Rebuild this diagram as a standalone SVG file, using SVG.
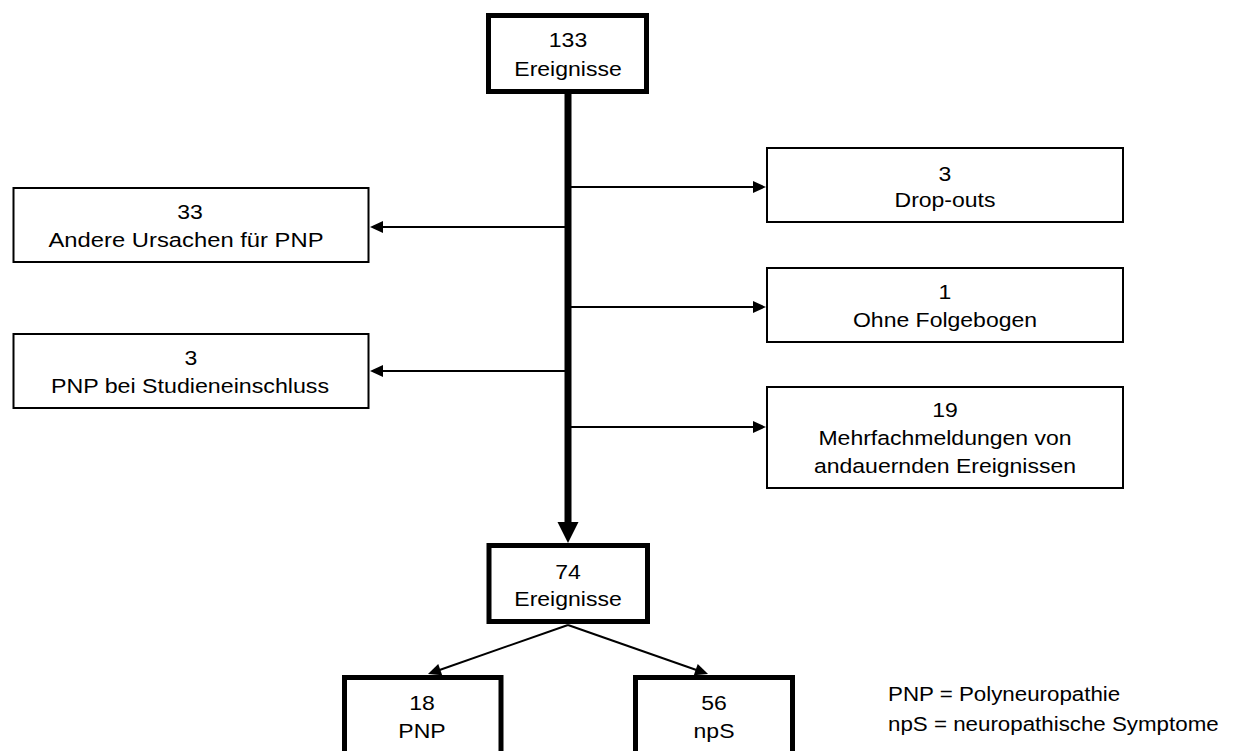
<svg xmlns="http://www.w3.org/2000/svg" width="1242" height="751" viewBox="0 0 1242 751">
<style>
.thick{fill:#fff;stroke:#000;stroke-width:5}
.thin{fill:#fff;stroke:#000;stroke-width:2}
text{font-family:"Liberation Sans",Arial,sans-serif;font-size:19.5px;fill:#000}
.c{text-anchor:middle}
.l{text-anchor:start}
.ln{stroke:#000;stroke-width:2;fill:none;marker-end:url(#ah)}
</style>
<defs>
<marker id="ah" markerUnits="userSpaceOnUse" markerWidth="13" markerHeight="12" refX="3" refY="6" orient="auto" overflow="visible">
<path d="M0,0 L13,6 L0,12 z" fill="#000"/>
</marker>
<marker id="ahb" markerUnits="userSpaceOnUse" markerWidth="21" markerHeight="21" refX="4" refY="10.5" orient="auto" overflow="visible">
<path d="M0,0 L21,10.5 L0,21 z" fill="#000"/>
</marker>
</defs>
<rect width="1242" height="751" fill="#fff"/>
<g id="connectors">
<line x1="568" y1="94" x2="568" y2="526" stroke="#000" stroke-width="7" marker-end="url(#ahb)"/>
<line class="ln" x1="568" y1="227" x2="380" y2="227"/>
<line class="ln" x1="568" y1="371" x2="380" y2="371"/>
<line class="ln" x1="568" y1="187" x2="756" y2="187"/>
<line class="ln" x1="568" y1="307" x2="756" y2="307"/>
<line class="ln" x1="568" y1="427" x2="756" y2="427"/>
<line class="ln" x1="568" y1="625" x2="437.4" y2="670.7"/>
<line class="ln" x1="568" y1="625" x2="698.6" y2="670.7"/>
</g>
<g id="n133">
<rect class="thick" x="488.5" y="15.5" width="158" height="76"/>
<text class="c" transform="translate(568,47) scale(1.18,1)">133</text>
<text class="c" transform="translate(568,76) scale(1.18,1)">Ereignisse</text>
</g>
<g id="nAndere">
<rect class="thin" x="13.5" y="188" width="355" height="74"/>
<text class="c" transform="translate(190,219) scale(1.18,1)">33</text>
<text class="c" transform="translate(186,247) scale(1.22,1)">Andere Ursachen für PNP</text>
</g>
<g id="nStudien">
<rect class="thin" x="13.5" y="334" width="355" height="74"/>
<text class="c" transform="translate(191,365) scale(1.18,1)">3</text>
<text class="c" transform="translate(190,393) scale(1.19,1)">PNP bei Studieneinschluss</text>
</g>
<g id="nDrop">
<rect class="thin" x="767" y="148" width="356" height="74"/>
<text class="c" transform="translate(945,181) scale(1.18,1)">3</text>
<text class="c" transform="translate(945,207) scale(1.18,1)">Drop-outs</text>
</g>
<g id="nOhne">
<rect class="thin" x="767" y="268" width="356" height="74"/>
<text class="c" transform="translate(945,299) scale(1.18,1)">1</text>
<text class="c" transform="translate(945,327) scale(1.18,1)">Ohne Folgebogen</text>
</g>
<g id="nMehr">
<rect class="thin" x="767" y="387" width="356" height="101"/>
<text class="c" transform="translate(945,417) scale(1.18,1)">19</text>
<text class="c" transform="translate(945,445) scale(1.18,1)">Mehrfachmeldungen von</text>
<text class="c" transform="translate(945,473) scale(1.18,1)">andauernden Ereignissen</text>
</g>
<g id="n74">
<rect class="thick" x="489" y="545.5" width="158.5" height="76"/>
<text class="c" transform="translate(568,579) scale(1.18,1)">74</text>
<text class="c" transform="translate(568,606) scale(1.18,1)">Ereignisse</text>
</g>
<g id="nPNP">
<rect class="thick" x="344.5" y="677.5" width="156.5" height="100"/>
<text class="c" transform="translate(422,710) scale(1.18,1)">18</text>
<text class="c" transform="translate(422,738) scale(1.18,1)">PNP</text>
</g>
<g id="nNpS">
<rect class="thick" x="635.5" y="677.5" width="157" height="100"/>
<text class="c" transform="translate(714,710) scale(1.18,1)">56</text>
<text class="c" transform="translate(714,738) scale(1.18,1)">npS</text>
</g>
<g id="legend">
<text class="l" transform="translate(888,701) scale(1.145,1)">PNP = Polyneuropathie</text>
<text class="l" transform="translate(888,731) scale(1.145,1)">npS = neuropathische Symptome</text>
</g>
</svg>
